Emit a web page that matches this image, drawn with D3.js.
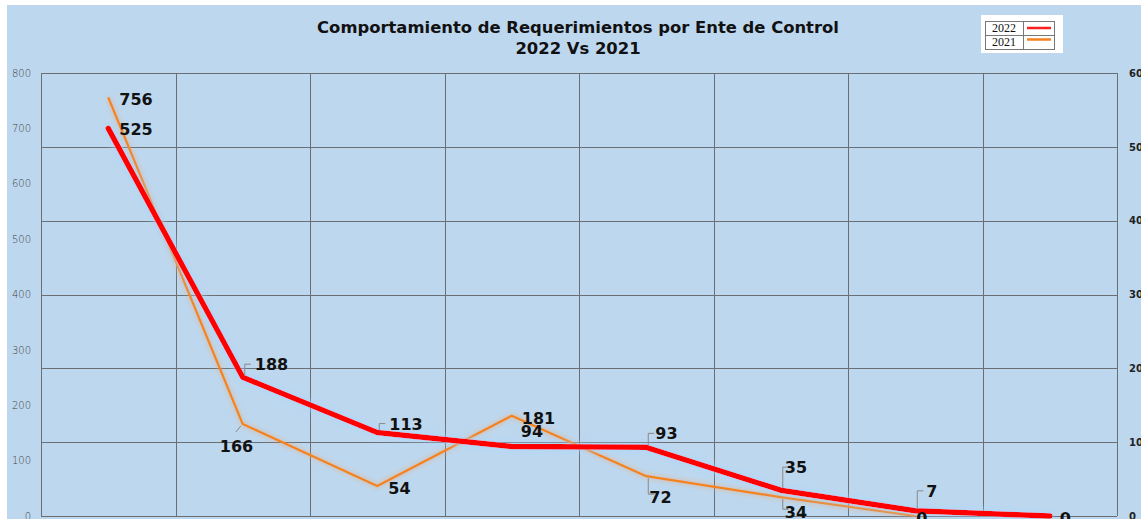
<!DOCTYPE html>
<html><head><meta charset="utf-8">
<script src="https://cdn.jsdelivr.net/npm/d3@7/dist/d3.min.js"></script>
<style>
html,body{margin:0;padding:0;background:#fff;}
svg{display:block;}
</style></head>
<body>
<svg id="c" width="1141" height="519"></svg>
<script>
const categories = ["1","2","3","4","5","6","7","8"];
const values2022 = [525, 188, 113, 94, 93, 35, 7, 0];
const values2021 = [756, 166, 54, 181, 72, 34, 0];
const leftTicks = [0,100,200,300,400,500,600,700,800];
const rightTicks = [0,100,200,300,400,500,600];
const titleLines = ["Comportamiento de Requerimientos por Ente de Control", "2022 Vs 2021"];
const legendLabels = ["2022", "2021"];

const W = 1141, H = 519;
const M = {left: 41, right: 1117, top: 73, bottom: 516};
const svg = d3.select("#c");

svg.append("rect").attr("x",0).attr("y",0).attr("width",W).attr("height",H).attr("fill","#fff");
svg.append("rect").attr("x",7).attr("y",5).attr("width",W-7).attr("height",H-5).attr("fill","#BDD7EE");

const defs = svg.append("defs");
function glow(id, color, sd, op){
  const f = defs.append("filter").attr("id",id).attr("x","-20%").attr("y","-20%").attr("width","140%").attr("height","140%");
  f.append("feGaussianBlur").attr("in","SourceAlpha").attr("stdDeviation",sd).attr("result","b");
  f.append("feFlood").attr("flood-color",color).attr("flood-opacity",op);
  f.append("feComposite").attr("in2","b").attr("operator","in").attr("result","g");
  const m = f.append("feMerge");
  m.append("feMergeNode").attr("in","g");
  m.append("feMergeNode").attr("in","SourceGraphic");
}
glow("gRed","#a6d6ff",3.5,1);
glow("gOr","#f5a05a",2.5,0.8);

const x = d3.scaleBand().domain(categories).range([M.left, M.right]).padding(0);
const yL = d3.scaleLinear().domain([0,800]).range([M.bottom, M.top]);
const yR = d3.scaleLinear().domain([0,600]).range([M.bottom, M.top]);
const cx = (d,i)=> x(categories[i]) + x.bandwidth()/2;

// grid
const grid = svg.append("g").attr("stroke","#6b6f74").attr("stroke-width",1);
const snap = v => Math.round(v) + 0.5;
rightTicks.forEach(t=>{
  grid.append("line").attr("x1",M.left).attr("x2",M.right).attr("y1",snap(yR(t))).attr("y2",snap(yR(t)));
});
categories.concat(["end"]).forEach((c,i)=>{
  const xx = i<categories.length ? x(c) : M.right;
  grid.append("line").attr("x1",snap(xx)).attr("x2",snap(xx)).attr("y1",M.top).attr("y2",M.bottom);
});

// left axis
const la = svg.append("g").attr("transform",`translate(${M.left},0)`)
  .call(d3.axisLeft(yL).tickValues(leftTicks).tickSize(0).tickPadding(10));
la.select(".domain").remove();
la.selectAll("text").attr("font-family","DejaVu Sans, sans-serif").attr("font-size",10).attr("fill","#404040").attr("font-weight","300");

// right axis
const ra = svg.append("g").attr("transform",`translate(${M.right},0)`)
  .call(d3.axisRight(yR).tickValues(rightTicks).tickSize(0).tickPadding(12));
ra.select(".domain").remove();
ra.selectAll("text").attr("font-family","DejaVu Sans, sans-serif").attr("font-size",10).attr("font-weight","bold").attr("fill","#222");

// lines
const lineL = d3.line().x(cx).y(d=>yL(d));
const lineR = d3.line().x(cx).y(d=>yR(d));
svg.append("path").datum(values2021).attr("d",lineL).attr("fill","none")
  .attr("stroke","#F5821F").attr("stroke-width",2.2).attr("stroke-linejoin","round").attr("filter","url(#gOr)");
svg.append("path").datum(values2022).attr("d",lineR).attr("fill","none")
  .attr("stroke","#FF0000").attr("stroke-width",5.5).attr("stroke-linejoin","round").attr("stroke-linecap","round").attr("filter","url(#gRed)");

// data labels (layout offsets relative to point)
const redOff = [[11,7,0],[12,-7,1],[12,-3,1],[9,-10,0],[9,-8,1],[4,-17,1],[11,-14,1],[10,8,0]];
const orOff  = [[11,8,0],[-23,28,1],[11,8,0],[10,8,0],[3,27,1],[4,21,1],[1,8,0]];
function labels(vals, yS, offs){
  vals.forEach((v,i)=>{
    const px = cx(v,i), py = yS(v);
    const [dx,dy,lead] = offs[i];
    if (lead){
      const ty = py+dy-6;
      if (dy<0){
        svg.append("polyline").attr("points",`${px+2},${py-2} ${px+2},${ty} ${px+8},${ty}`)
          .attr("fill","none").attr("stroke","#888").attr("stroke-width",1);
      } else if (dx<0){
        svg.append("line").attr("x1",px-2).attr("y1",py+2).attr("x2",px-7).attr("y2",py+8).attr("stroke","#888");
      } else {
        svg.append("polyline").attr("points",`${px+2},${py+2} ${px+2},${py+dy-9} ${px+8},${py+dy-9}`)
          .attr("fill","none").attr("stroke","#888").attr("stroke-width",1);
      }
    }
    svg.append("text").attr("x",px+dx).attr("y",py+dy)
      .attr("font-family","DejaVu Sans, sans-serif").attr("font-weight","bold").attr("font-size",16)
      .attr("fill","#111").text(v);
  });
}
labels(values2022, yR, redOff);
labels(values2021, yL, orOff);

// title
svg.selectAll(".title").data(titleLines).enter().append("text")
  .attr("x",578).attr("y",(d,i)=>33+i*21).attr("text-anchor","middle")
  .attr("font-family","DejaVu Sans, sans-serif").attr("font-weight","bold").attr("font-size",16.4).attr("fill","#111").text(d=>d);

// legend
const lg = svg.append("g");
lg.append("rect").attr("x",981).attr("y",15).attr("width",82).attr("height",38).attr("fill","#fff");
lg.append("rect").attr("x",985.5).attr("y",21.5).attr("width",69).attr("height",28).attr("fill","none").attr("stroke","#777");
lg.append("line").attr("x1",985.5).attr("x2",1054.5).attr("y1",35.5).attr("y2",35.5).attr("stroke","#777");
lg.append("line").attr("x1",1023.5).attr("x2",1023.5).attr("y1",21.5).attr("y2",49.5).attr("stroke","#777");
const legColors = ["#FF2020","#F5821F"];
legendLabels.forEach((t,i)=>{
  lg.append("text").attr("x",1004).attr("y",32+i*14).attr("text-anchor","middle")
    .attr("font-family","Liberation Serif, serif").attr("font-size",12).attr("fill","#111").text(t);
  lg.append("line").attr("x1",1027).attr("x2",1051).attr("y1",28+i*11.5).attr("y2",28+i*11.5)
    .attr("stroke",legColors[i]).attr("stroke-width",2.5);
});
</script>
</body></html>
